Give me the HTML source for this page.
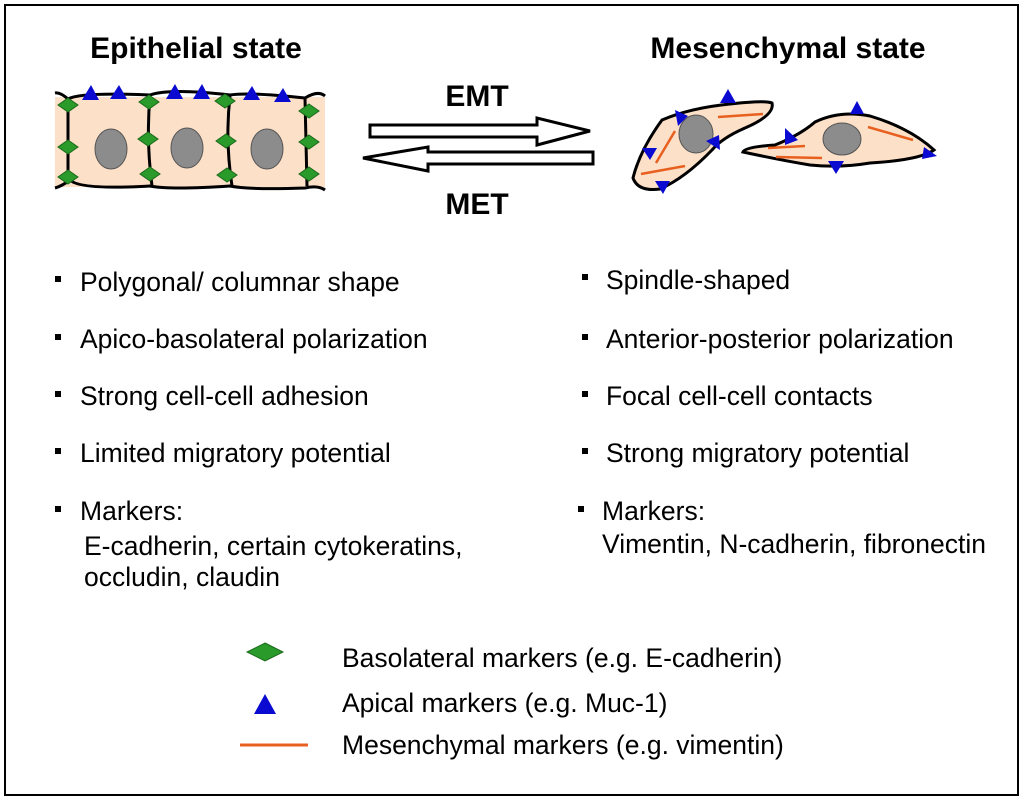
<!DOCTYPE html><html><head><style>body{margin:0;background:#fff}</style></head><body>
<svg width="1024" height="802" xmlns="http://www.w3.org/2000/svg" font-family="Liberation Sans, Arial, sans-serif">
<rect x="5" y="5" width="1013" height="790" fill="#fff" stroke="#000" stroke-width="2"/>
<text x="196" y="58" font-size="30" font-weight="bold" text-anchor="middle">Epithelial state</text>
<text x="788" y="58" font-size="30" font-weight="bold" text-anchor="middle">Mesenchymal state</text>
<rect x="55" y="97" width="270" height="90" fill="#fde0c8"/>
<g fill="none" stroke="#000" stroke-width="3">
<path d="M55,93 Q60,92 68,99 Q80,92 150,95 Q170,88 230,95 Q250,92 305,98 Q318,90 325,96"/>
<path d="M55,188 Q62,186 70,180 Q80,190 150,186 Q170,190 230,186 Q250,190 305,188 Q318,185 325,190"/>
<path d="M68,99 L68,180"/><path d="M150,96 Q146,140 152,186"/><path d="M230,96 Q225,140 232,186"/><path d="M305,98 L307,186"/>
</g>
<g fill="#8c8c8c" stroke="#555"><ellipse cx="111" cy="149" rx="16" ry="20"/><ellipse cx="187" cy="148" rx="16" ry="20"/><ellipse cx="267" cy="149" rx="16" ry="20"/></g>
<g fill="#0a0ad0"><path d="M82,100 L91,85 L99,100Z M110,99 L119,85 L127,99Z M166,99 L175,84 L183,99Z M193,99 L202,84 L210,99Z M243,100 L252,86 L260,100Z M274,102 L283,88 L291,102Z"/></g>
<g fill="#2a9a2a" stroke="#1a6a1a"><path id="d" d="M0,-7 L10,0 L0,7 L-10,0Z" transform="translate(68,105)"/>
<use href="#d" x="0" y="42"/><use href="#d" x="0" y="72"/>
<use href="#d" x="81" y="-3"/><use href="#d" x="80" y="34"/><use href="#d" x="82" y="69"/>
<use href="#d" x="157" y="-4"/><use href="#d" x="158" y="36"/><use href="#d" x="159" y="70"/>
<use href="#d" x="241" y="6"/><use href="#d" x="241" y="37"/><use href="#d" x="241" y="69"/></g>
<path d="M370,125 L537,125 L537,118 L590,131 L537,145 L537,137 L370,137Z" fill="#fff" stroke="#000" stroke-width="3"/>
<path d="M593,152 L428,152 L428,147 L363,158 L428,171 L428,164 L593,164Z" fill="#fff" stroke="#000" stroke-width="3"/>
<text x="477" y="106" font-size="30" font-weight="bold" text-anchor="middle">EMT</text>
<text x="477" y="214" font-size="30" font-weight="bold" text-anchor="middle">MET</text>
<g fill="#fde0c8" stroke="#000" stroke-width="3">
<path d="M633,178 Q640,150 662,120 Q690,108 730,104 Q765,100 772,103 Q775,115 745,128 Q722,138 712,150 Q685,178 660,189 Q638,192 633,178Z"/>
<path d="M743,152 Q745,147 775,145 Q800,135 815,122 Q840,110 870,116 Q910,128 934,150 Q920,160 870,163 Q840,168 810,165 Q780,160 743,152Z"/>
</g>
<g fill="#8c8c8c" stroke="#555"><ellipse cx="696" cy="134" rx="17" ry="19"/><ellipse cx="842" cy="139" rx="19" ry="16"/></g>
<g stroke="#e86020" stroke-width="2.5"><path d="M718,117 L763,114 M675,131 L656,163 M641,174 L685,166 M768,148 L805,146 M776,157 L822,158 M868,127 L913,140"/></g>
<g fill="#0a0ad0"><path d="M720,103 L728,89 L736,103Z M675,110 L688,116 L678,126Z M642,148 L657,148 L650,160Z M706,141 L719,135 L720,150Z M655,181 L670,181 L663,194Z M785,128 L798,140 L785,145Z M850,114 L857,101 L864,114Z M828,161 L844,161 L836,174Z M924,147 L937,156 L922,159Z"/></g>
<g font-size="26.5">
<g fill="#000"><rect x="55" y="276" width="6" height="6"/><rect x="55" y="334" width="6" height="6"/><rect x="55" y="391" width="6" height="6"/><rect x="55" y="448" width="6" height="6"/><rect x="55" y="506" width="6" height="6"/>
<rect x="582" y="274" width="6" height="6"/><rect x="582" y="334" width="6" height="6"/><rect x="582" y="391" width="6" height="6"/><rect x="582" y="448" width="6" height="6"/><rect x="578" y="506" width="6" height="6"/></g>
<text x="80" y="291">Polygonal/ columnar shape</text>
<text x="80" y="348">Apico-basolateral polarization</text>
<text x="80" y="405">Strong cell-cell adhesion</text>
<text x="80" y="462">Limited migratory potential</text>
<text x="80" y="520">Markers:</text>
<text x="84" y="555">E-cadherin, certain cytokeratins,</text>
<text x="84" y="586">occludin, claudin</text>
<text x="606" y="289">Spindle-shaped</text>
<text x="606" y="348">Anterior-posterior polarization</text>
<text x="606" y="405">Focal cell-cell contacts</text>
<text x="606" y="462">Strong migratory potential</text>
<text x="602" y="520">Markers:</text>
<text x="602" y="553">Vimentin, N-cadherin, fibronectin</text>
<text x="342" y="667">Basolateral markers (e.g. E-cadherin)</text>
<text x="342" y="712">Apical markers (e.g. Muc-1)</text>
<text x="342" y="754">Mesenchymal markers (e.g. vimentin)</text>
</g>
<path d="M265,643 L283,652 L265,661 L247,652Z" fill="#2a9a2a" stroke="#1a6a1a"/>
<path d="M254,714 L265,694 L276,714Z" fill="#0a0ad0"/>
<line x1="240" y1="745" x2="308" y2="745" stroke="#e86020" stroke-width="3"/>
</svg></body></html>
